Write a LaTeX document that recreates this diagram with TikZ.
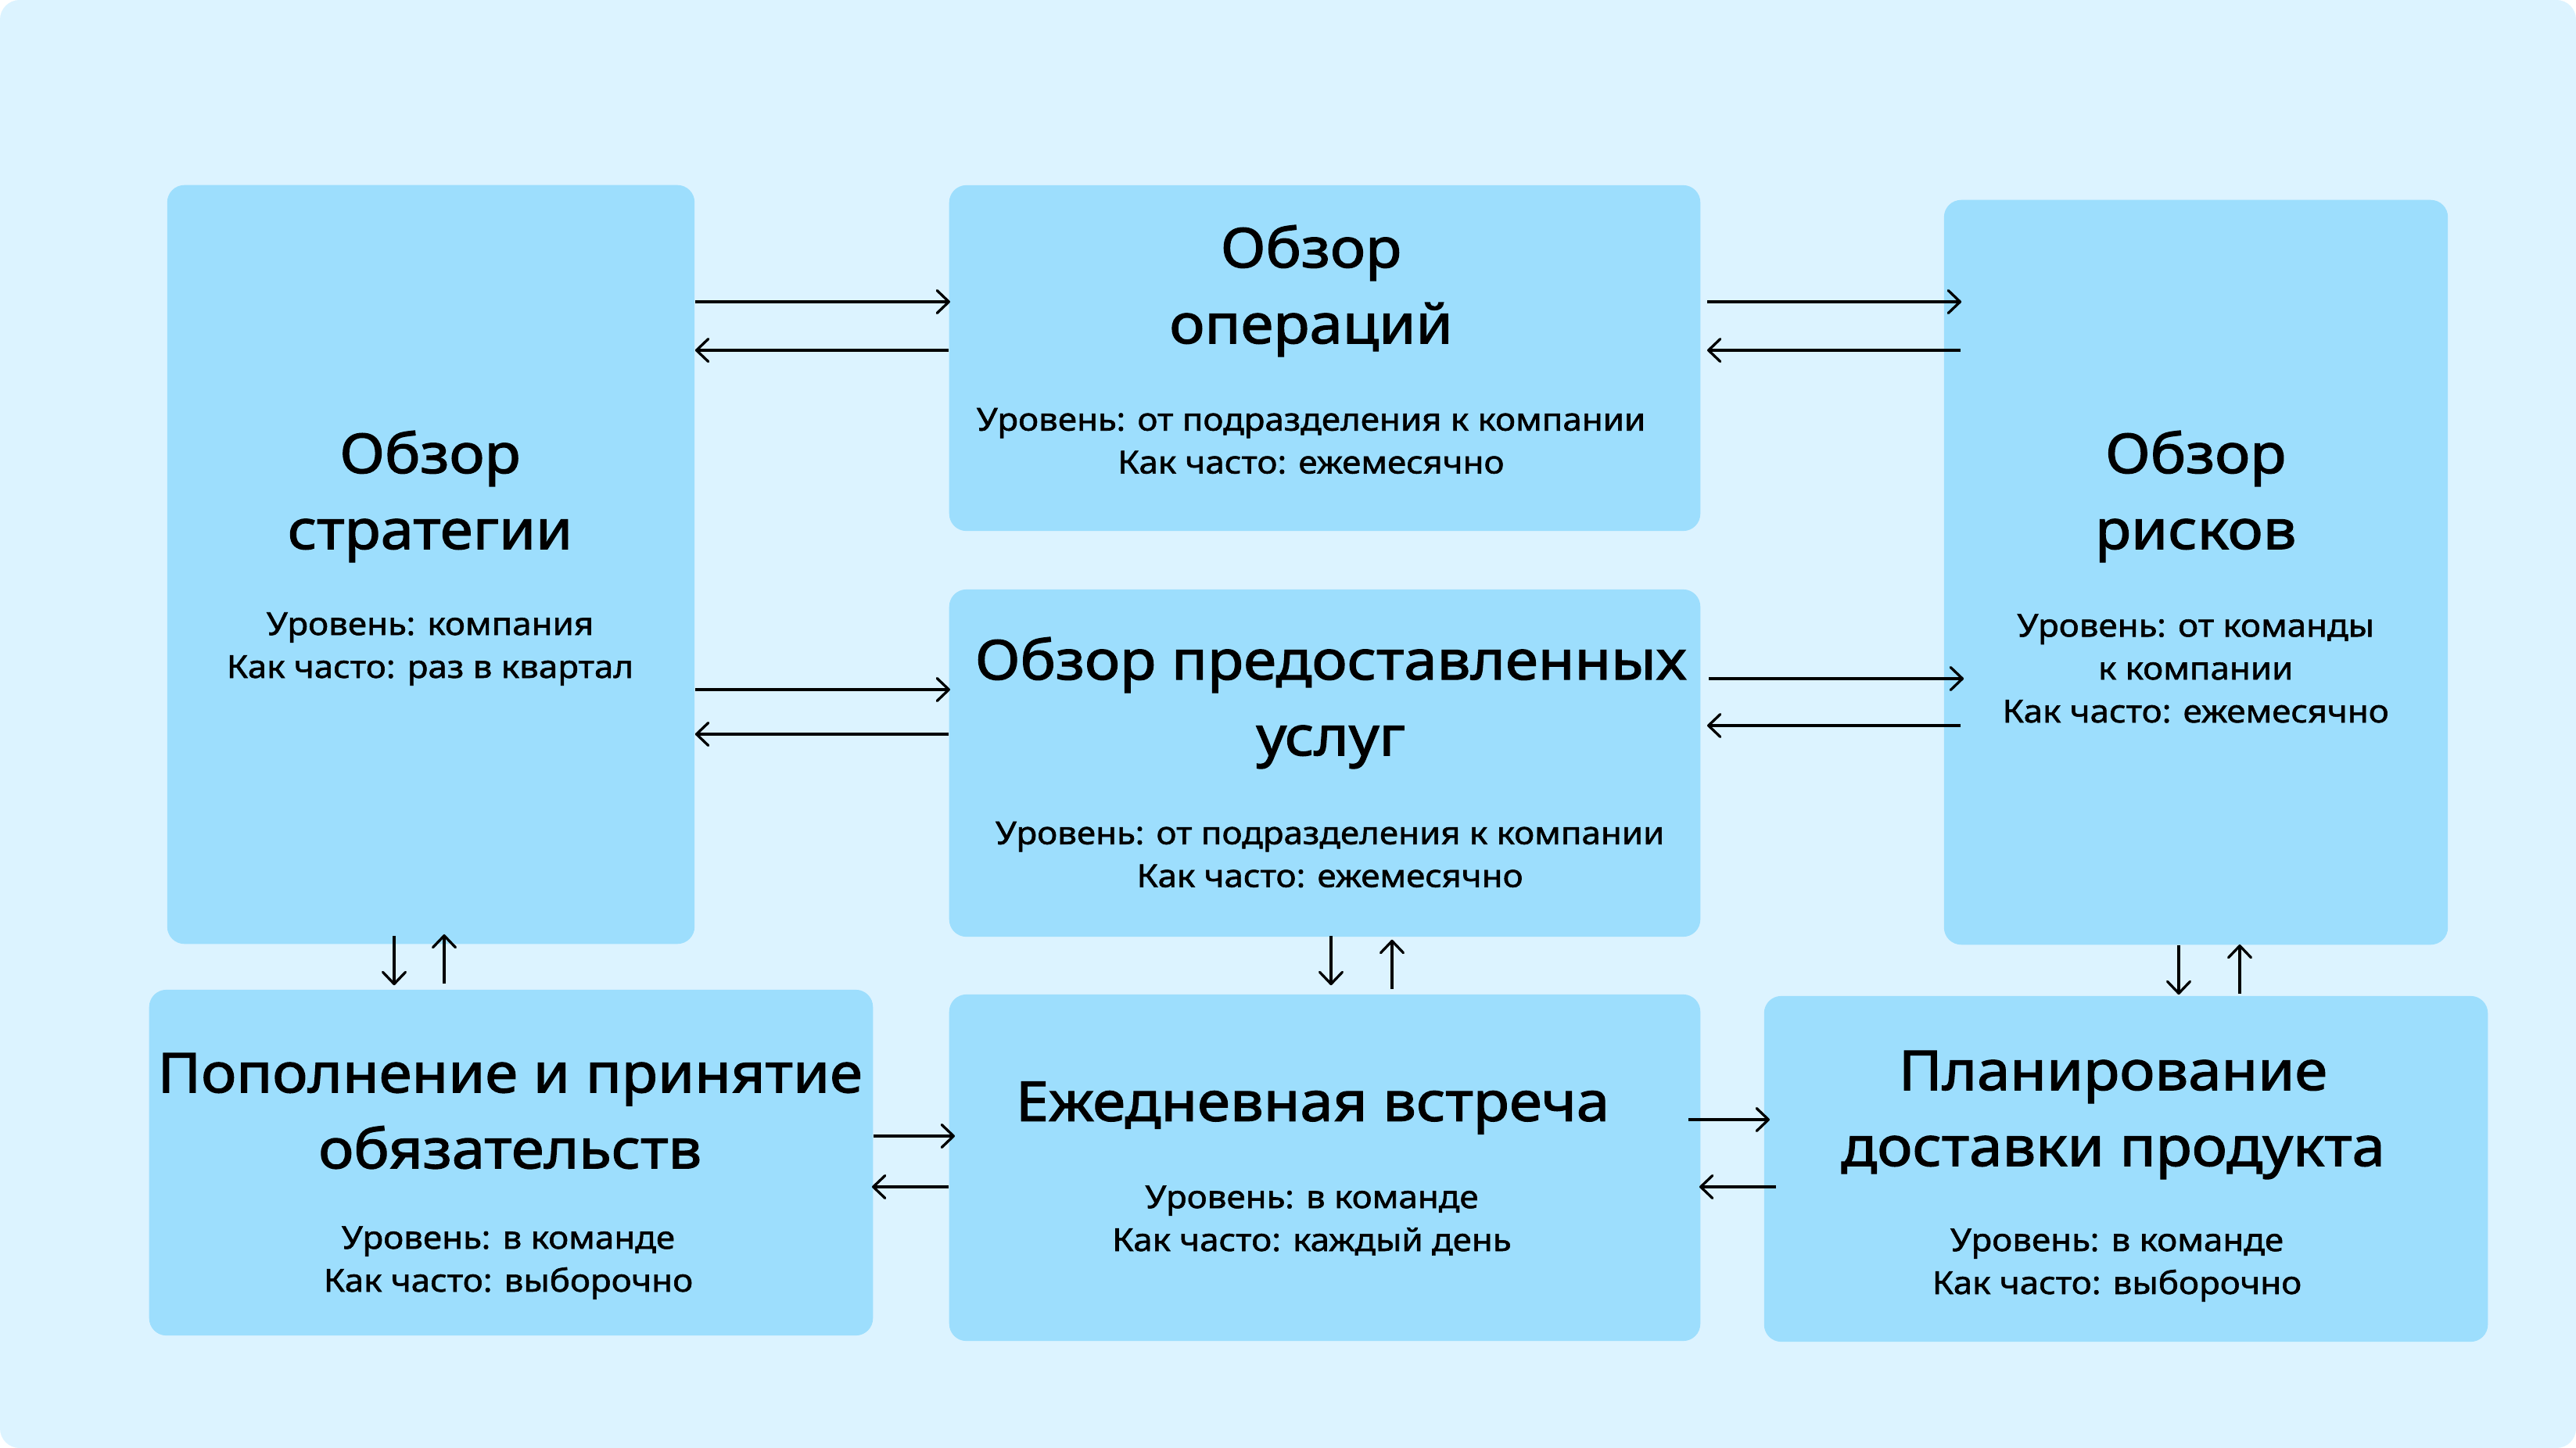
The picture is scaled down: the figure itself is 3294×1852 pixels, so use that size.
\documentclass[tikz,border=0pt]{standalone}
\usepackage{fontspec}
\setmainfont{Noto Sans}
\newfontfamily\tfont{Noto Sans}[FakeStretch=1.08,FakeBold=1.8]
\newfontfamily\sfont{Noto Sans}[FakeStretch=1.085,FakeBold=1.4]
\usetikzlibrary{arrows.meta,calc}
\definecolor{bgc}{HTML}{DCF3FF}
\definecolor{boxc}{HTML}{9DDEFD}
\begin{document}
\begin{tikzpicture}[x=0.01cm,y=-0.01cm,
  box/.style={fill=boxc,draw=none,rounded corners=0.22cm,inner sep=0pt},
  ttl/.style={align=center,inner sep=0pt,font={\tfont\fontsize{20}{27.6}\selectfont}},
  sub/.style={align=center,inner sep=0pt,font={\sfont\fontsize{11.5}{15.6}\selectfont}},
  arr/.style={line width=0.94pt,-{Straight Barb[length=4.3pt,width=8.2pt,round]}}]
\fill[white] (0,0) rectangle (3294,1852);
\fill[bgc,rounded corners=0.25cm] (0,0) rectangle (3294,1852);
% boxes
\node[box,minimum width=6.74cm,minimum height=9.70cm] (strat) at (551,722) {};
\node[box,minimum width=9.60cm,minimum height=4.42cm] (ops) at (1694,458) {};
\node[box,minimum width=9.60cm,minimum height=4.44cm] (serv) at (1694,976) {};
\node[box,minimum width=6.44cm,minimum height=9.52cm] (risk) at (2808,732) {};
\node[box,minimum width=9.25cm,minimum height=4.42cm] (repl) at (653.5,1487) {};
\node[box,minimum width=9.60cm,minimum height=4.43cm] (daily) at (1694,1493.5) {};
\node[box,minimum width=9.25cm,minimum height=4.42cm] (plan) at (2718.5,1495) {};
% texts
\node[ttl] (stratT) at (550,635) {Обзор\\стратегии};
\node[sub] (stratS) at (550,830) {Уровень: компания\\Как часто: раз в квартал};
\node[ttl] (opsT) at (1676.5,372) {Обзор\\операций};
\node[sub] (opsS) at (1676.5,564) {Уровень: от подразделения к компании\\Как часто: ежемесячно};
\node[ttl] (servT) at (1701.7,899) {Обзор предоставленных\\услуг};
\node[sub] (servS) at (1700.6,1093) {Уровень: от подразделения к компании\\Как часто: ежемесячно};
\node[ttl] (riskT) at (2807.7,635) {Обзор\\рисков};
\node[sub] (riskS) at (2807.7,855) {Уровень: от команды\\к компании\\Как часто: ежемесячно};
\node[ttl] (replT) at (652.3,1421) {Пополнение и принятие\\обязательств};
\node[sub] (replS) at (650,1615) {Уровень: в команде\\Как часто: выборочно};
\node[ttl] (dailyT) at (1678.5,1417) {Ежедневная встреча};
\node[sub] (dailyS) at (1677.5,1561) {Уровень: в команде\\Как часто: каждый день};
\node[ttl] (planT) at (2702,1426) {Планирование\\доставки продукта};
\node[sub] (planS) at (2707,1618) {Уровень: в команде\\Как часто: выборочно};
% horizontal arrows
\draw[arr] (strat.east |- 0,386) -- ($(ops.west |- 0,386)+(2,0)$);
\draw[arr] (ops.west |- 0,448) -- (strat.east |- 0,448);
\draw[arr] (strat.east |- 0,882) -- ($(serv.west |- 0,882)+(2,0)$);
\draw[arr] (serv.west |- 0,939) -- (strat.east |- 0,939);
\draw[arr] ($(ops.east |- 0,386)+(8,0)$) -- ($(risk.west |- 0,386)+(23,0)$);
\draw[arr] ($(risk.west |- 0,448)+(22,0)$) -- ($(ops.east |- 0,448)+(8,0)$);
\draw[arr] ($(serv.east |- 0,868)+(10,0)$) -- ($(risk.west |- 0,868)+(26,0)$);
\draw[arr] ($(risk.west |- 0,928)+(22,0)$) -- ($(serv.east |- 0,928)+(8,0)$);
\draw[arr] (repl.east |- 0,1453) -- ($(daily.west |- 0,1453)+(8,0)$);
\draw[arr] (daily.west |- 0,1518) -- ($(repl.east |- 0,1518)+(-2,0)$);
\draw[arr] ($(daily.east |- 0,1432)+(-16,0)$) -- ($(plan.west |- 0,1432)+(8,0)$);
\draw[arr] ($(plan.west |- 0,1518)+(16,0)$) -- ($(daily.east |- 0,1518)+(-2,0)$);
% vertical arrows
\draw[arr] ($(strat.south -| 504,0)+(0,-11)$) -- ($(repl.north -| 504,0)+(0,-5)$);
\draw[arr] ($(repl.north -| 568,0)+(0,-7)$) -- ($(strat.south -| 568,0)+(0,-13)$);
\draw[arr] ($(serv.south -| 1702,0)+(0,-2)$) -- ($(daily.north -| 1702,0)+(0,-11)$);
\draw[arr] ($(daily.north -| 1780,0)+(0,-6)$) -- ($(serv.south -| 1780,0)+(0,3)$);
\draw[arr] (risk.south -| 2786,0) -- ($(plan.north -| 2786,0)+(0,-1)$);
\draw[arr] ($(plan.north -| 2864,0)+(0,-2)$) -- ($(risk.south -| 2864,0)+(0,-1)$);
\end{tikzpicture}
\end{document}
